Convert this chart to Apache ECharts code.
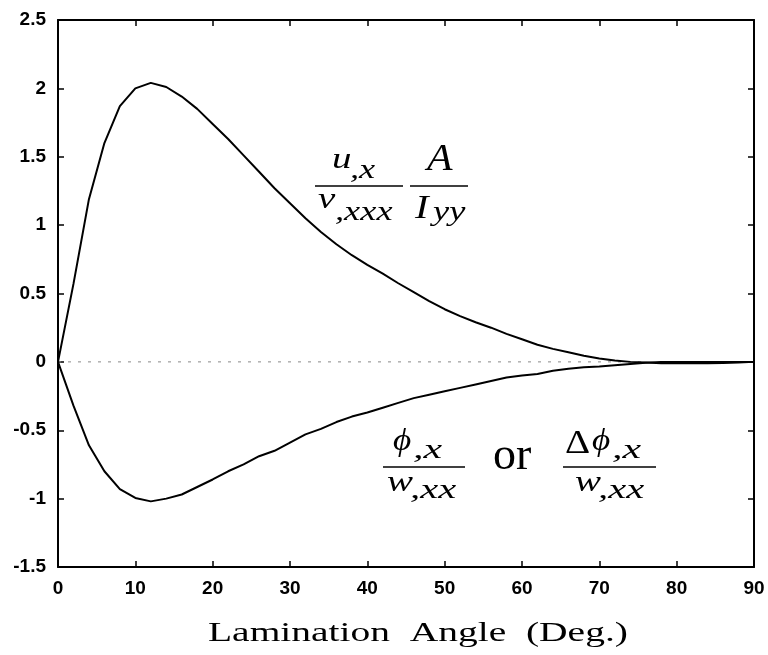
<!DOCTYPE html>
<html lang="en">
<head>
    <meta charset="UTF-8">
    <title>Lamination Angle</title>
    <script src="https://cdn.jsdelivr.net/npm/echarts@6/dist/echarts.min.js"></script>
    <style>
        html, body { margin: 0; padding: 0; background: #fff; }
        #container { width: 768px; height: 655px; }
    </style>
</head>
<body>
<div id="container"></div>
<script>
    // lamination angle (deg.)
    var angles = [0, 2, 4, 6, 8, 10, 12, 14, 16, 18, 20, 22, 24, 26, 28, 30, 32, 34, 36, 38, 40, 42, 44,
        46, 48, 50, 52, 54, 56, 58, 60, 62, 64, 66, 68, 70, 72, 74, 76, 78, 80, 82, 84, 86, 88, 90];
    // u,x / v,xxx * A / Iyy
    var upper = [0, 0.57, 1.19, 1.6, 1.87, 2.0, 2.04, 2.01, 1.94, 1.85, 1.74, 1.63, 1.51, 1.39, 1.27, 1.16,
        1.05, 0.95, 0.86, 0.78, 0.71, 0.645, 0.575, 0.51, 0.445, 0.385, 0.335, 0.29, 0.25, 0.205, 0.165,
        0.125, 0.095, 0.07, 0.045, 0.025, 0.01, 0.0, -0.005, -0.01, -0.01, -0.01, -0.01, -0.008, -0.005, 0];
    // phi,x / w,xx
    var lower = [0, -0.32, -0.61, -0.8, -0.93, -0.995, -1.02, -1.0, -0.97, -0.915, -0.86, -0.8, -0.75, -0.69,
        -0.65, -0.59, -0.53, -0.49, -0.44, -0.4, -0.37, -0.335, -0.3, -0.265, -0.24, -0.215, -0.19, -0.165,
        -0.14, -0.115, -0.1, -0.088, -0.065, -0.05, -0.04, -0.033, -0.024, -0.015, -0.006, 0, 0, 0, 0, 0, 0, 0];
    // dashed zero line
    var zeroX = [0, 76];
    var zeroY = [0, 0];

    var xTicks = [0, 10, 20, 30, 40, 50, 60, 70, 80, 90];
    var yTicks = [-1.5, -1, -0.5, 0, 0.5, 1, 1.5, 2, 2.5];

    function pairs(xs, ys) {
        var out = [];
        for (var i = 0; i < xs.length; i++) out.push([xs[i], ys[i]]);
        return out;
    }

    var serif = 'Liberation Serif';

    // text piece: left edge, baseline, size, italic?, horizontal stretch
    function tx(str, left, base, size, italic, sx) {
        return {
            type: 'text', x: left, y: base - 0.33 * size, scaleX: sx || 1, z: 10,
            style: {
                text: str, fill: '#000', align: 'left', verticalAlign: 'middle',
                fontFamily: serif, fontSize: size, fontStyle: italic ? 'italic' : 'normal'
            }
        };
    }
    function bar(x1, x2, y) {
        return {
            type: 'line', z: 10,
            shape: {x1: x1, y1: y, x2: x2, y2: y},
            style: {stroke: '#000', lineWidth: 1.5}
        };
    }

    var myChart = echarts.init(document.getElementById('container'));

    var axisBase = {
        type: 'value',
        min: 0, max: 90, interval: 10,
        axisLine: {show: true, onZero: false, lineStyle: {color: '#000', width: 2}},
        axisTick: {show: true, inside: true, length: 6, lineStyle: {color: '#000', width: 1.5}},
        splitLine: {show: false}
    };

    var option = {
        animation: false,
        backgroundColor: '#fff',
        grid: {left: 58, right: 14, top: 20, bottom: 88, containLabel: false},
        xAxis: [
            echarts.util.merge({
                position: 'bottom',
                axisLabel: {
                    margin: 12, color: '#000', fontSize: 19, fontWeight: 'bold',
                    fontFamily: 'Liberation Sans',
                    formatter: function (v) { return xTicks.indexOf(v) >= 0 ? String(v) : ''; }
                }
            }, axisBase, true),
            echarts.util.merge({position: 'top', axisLabel: {show: false}}, axisBase, true)
        ],
        yAxis: [
            echarts.util.merge({
                position: 'left', min: -1.5, max: 2.5, interval: 0.5,
                axisLabel: {
                    margin: 12, color: '#000', fontSize: 19, fontWeight: 'bold',
                    fontFamily: 'Liberation Sans',
                    formatter: function (v) { return yTicks.indexOf(v) >= 0 ? String(v) : ''; }
                }
            }, axisBase, false),
            echarts.util.merge({position: 'right', min: -1.5, max: 2.5, interval: 0.5, axisLabel: {show: false}}, axisBase, false)
        ],
        series: [
            {
                type: 'line', data: pairs(zeroX, zeroY), showSymbol: false, z: 1,
                lineStyle: {color: '#888', width: 1, type: [3, 7]}
            },
            {
                type: 'line', data: pairs(angles, upper), showSymbol: false, z: 3,
                lineStyle: {color: '#000', width: 2}
            },
            {
                type: 'line', data: pairs(angles, lower), showSymbol: false, z: 3,
                lineStyle: {color: '#000', width: 2}
            }
        ],
        graphic: [
            // u,x / v,xxx  A / Iyy
            tx('u', 332, 170, 30, true, 1.3),
            tx(',x', 350, 180, 28, true, 1.3),
            bar(315, 403, 186),
            tx('v', 318, 210, 30, true, 1.3),
            tx(',xxx', 335, 222, 28, true, 1.3),
            tx('A', 427, 173, 38, true, 1.1),
            bar(410, 468, 186),
            tx('I', 415, 220, 34, true, 1.2),
            tx('yy', 433, 222, 28, true, 1.3),
            // phi,x / w,xx  or  delta phi,x / w,xx
            tx('\u03d5', 393, 452, 32, true, 1.1),
            tx(',x', 413, 460, 28, true, 1.5),
            bar(383, 465, 467),
            tx('w', 387, 493, 30, true, 1.3),
            tx(',xx', 410, 500, 28, true, 1.45),
            tx('or', 493, 472, 46, false, 1.0),
            tx('\u0394', 565, 455, 34, false, 1.15),
            tx('\u03d5', 592, 452, 32, true, 1.1),
            tx(',x', 612, 460, 28, true, 1.5),
            bar(563, 656, 467),
            tx('w', 575, 493, 30, true, 1.3),
            tx(',xx', 598, 500, 28, true, 1.45),
            // axis title
            tx('Lamination  Angle  (Deg.)', 208, 643, 28, false, 1.41)
        ]
    };
    myChart.setOption(option);

    window.onresize = function () {
        myChart.resize();
    };
</script>
</body>
</html>
